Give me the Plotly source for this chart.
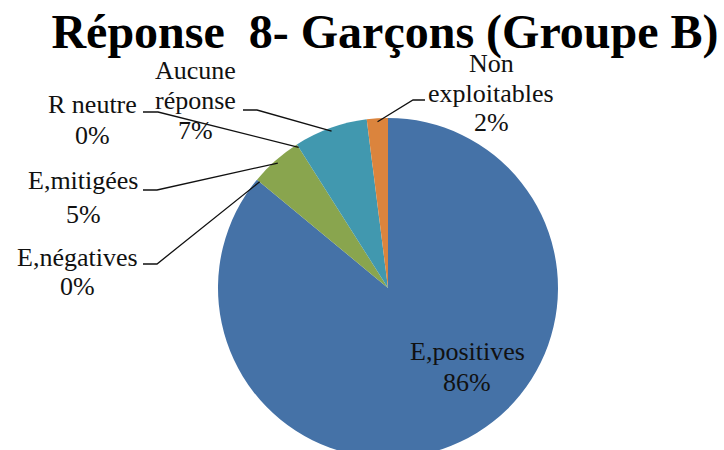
import math
import plotly.graph_objects as go

# ---- data ----
categories = ["E,positives", "E,négatives", "E,mitigées", "R neutre",
              "Aucune réponse", "Non exploitables"]
values = [86, 0, 5, 0, 7, 2]
label_text = ["E,positives", "E,négatives", "E,mitigées", "R neutre",
              "Aucune<br>réponse", "Non<br>exploitables"]
title_text = "Réponse\u00a0\u00a08- Garçons (Groupe B)"

# ---- style / layout ----
colors = ["#4572A7", "#AA4643", "#89A54E", "#80699B", "#4198AF", "#DB843D"]
W, H = 724, 470
CX, CY, R = 388, 288, 170
FONT = "Liberation Serif, Times New Roman, serif"

# label placement (pixel centre x, first line centre y, line gap)
label_pos = [(467, 351, 31), (77, 257, 29), (83, 181, 33),
             (92, 104, 31), (196, 71, 29.5), (491, 64, 29)]
# leader line elbow and end (pixels); None for no leader
leader = [None, ((157, 264), (143, 264)), ((157, 190), (143, 190)),
          ((158, 112), (143, 112)), ((257, 110), (243, 110)),
          ((413, 100), (425, 100))]


def px(x):
    return x / W


def py(y):
    return 1 - y / H


fig = go.Figure(go.Pie(
    labels=categories, values=values, sort=False, direction="clockwise",
    rotation=0, textinfo="none", hoverinfo="label+percent",
    marker=dict(colors=colors, line=dict(width=0)),
    domain=dict(x=[px(CX - R), px(CX + R)], y=[py(CY + R), py(CY - R)]),
    showlegend=False,
))

total = sum(values)
annotations = []
shapes = []
cum = 0
for i, (cat, v) in enumerate(zip(categories, values)):
    pct = round(100 * v / total)
    lines = label_text[i].split("<br>") + [f"{pct}%"]
    x0, y0, gap = label_pos[i]
    for k, t in enumerate(lines):
        annotations.append(dict(
            x=px(x0), y=py(y0 + k * gap), xref="paper", yref="paper",
            text=t, showarrow=False, xanchor="center", yanchor="middle",
            font=dict(family=FONT, size=26, color="#111111")))
    theta = math.radians(360 * (cum + v / 2) / total)
    cum += v
    if leader[i] is not None:
        ax = CX + 0.98 * R * math.sin(theta)
        ay = CY - 0.98 * R * math.cos(theta)
        (ex, ey), (tx, ty) = leader[i]
        shapes.append(dict(
            type="path", xref="paper", yref="paper",
            path=f"M {px(ax)},{py(ay)} L {px(ex)},{py(ey)} L {px(tx)},{py(ty)}",
            line=dict(color="#111111", width=1.3)))

fig.update_layout(
    width=W, height=H, margin=dict(l=0, r=0, t=0, b=0),
    paper_bgcolor="white", plot_bgcolor="white",
    title=dict(text=title_text, x=385 / W, xanchor="center",
               y=py(31), yanchor="middle", yref="container",
               font=dict(family=FONT, size=48, color="black", weight="bold")),
    annotations=annotations, shapes=shapes,
)

fig.write_html("out.html", config={"displayModeBar": False}, post_script=(
    "document.body.style.margin='0';"
    "document.body.style.overflow='hidden';"))
